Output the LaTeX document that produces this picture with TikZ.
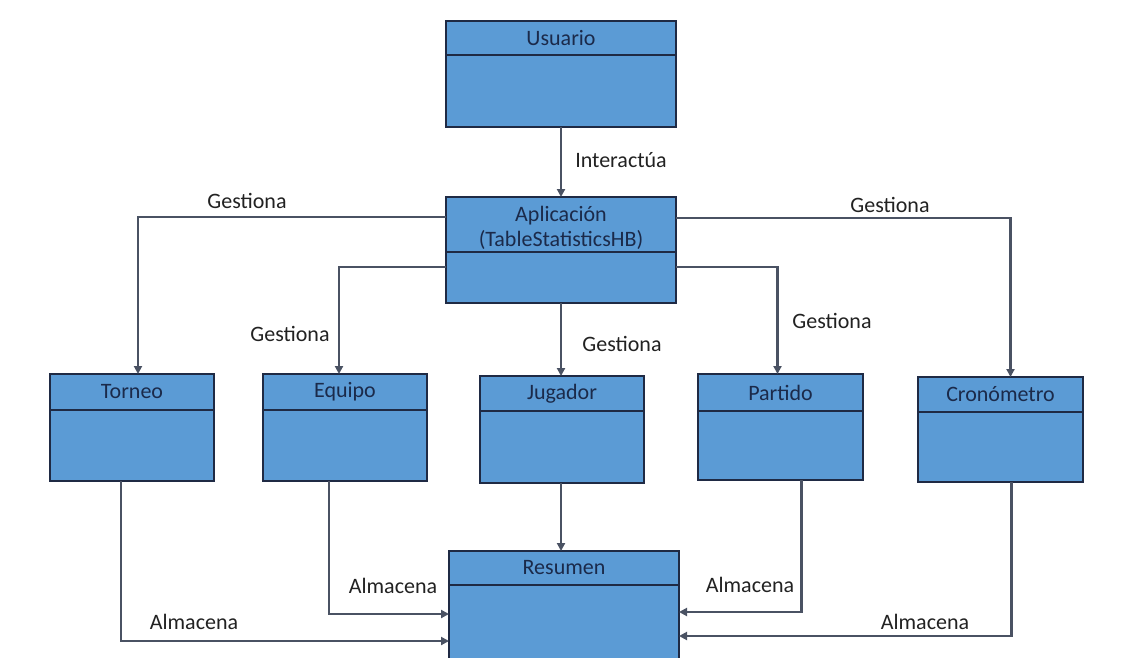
\documentclass[tikz,border=0pt]{standalone}
\usepackage{fontspec}
\setmainfont{Carlito}
\usetikzlibrary{arrows.meta,fit}

\definecolor{boxfill}{HTML}{5B9BD5}
\definecolor{boxline}{HTML}{1F2A44}
\definecolor{titletext}{HTML}{1B2A4A}
\definecolor{wire}{HTML}{4A5263}
\definecolor{labeltext}{HTML}{222222}

% class box frame: name, x1, y1, x2, y2, divider y
\newcommand\umlframe[6]{%
  \coordinate (#1-nw) at (#2,#3);
  \coordinate (#1-se) at (#4,#5);
  \node[umlbox, fit=(#1-nw)(#1-se)] (#1) {};
  \draw[divider] (#1.west |- 0,#6) -- (#1.east |- 0,#6);
}
% class box with its title centred in the header
\newcommand\umlclass[7]{%
  \umlframe{#1}{#2}{#3}{#4}{#5}{#6}
  \node[title] (#1-t) at ({(#2+#4)/2},{(#3+#6)/2}) {#7};
}

\begin{document}
\begin{tikzpicture}[x=1pt,y=-1pt,
  umlbox/.style={draw=boxline, fill=boxfill, line width=1.4pt, inner sep=0pt, outer sep=0pt},
  divider/.style={draw=boxline, line width=1.4pt},
  title/.style={font=\fontsize{22}{25}\selectfont, text=titletext, inner sep=0pt, align=center},
  conn/.style={draw=wire, line width=2.5pt, -{Triangle[length=8pt,width=8pt]}},
  lbl/.style={font=\fontsize{22}{25}\selectfont, text=labeltext, inner sep=0pt}]

\useasboundingbox (0,0) rectangle (1137,657);
\fill[white] (0,0) rectangle (1137,657);

% classes
\umlclass{usr}{446}{21}{676}{127}{55}{Usuario}
\umlframe{app}{446}{197}{676}{303}{252}
\node[title] (app-t) at (561,228) {Aplicación\\(TableStatisticsHB)};
\umlclass{tor}{50}{374}{214}{481}{410}{Torneo}
\umlclass{equ}{263}{374}{427}{481}{410}{Equipo}
\umlclass{jug}{480}{376}{644}{483}{411}{Jugador}
\umlclass{par}{698}{374}{863}{480}{411}{Partido}
\umlclass{cro}{918}{377}{1083}{482}{412}{Cronómetro}
\umlclass{res}{449}{551}{679}{670}{585}{Resumen}

% Usuario -> Aplicación
\draw[conn] (usr) -- (app);
\node[lbl] (l-int) at (621,160) {Interactúa};

% Aplicación manages the domain classes
\draw[conn] (app.west |- 0,217) -| ([xshift=6pt]tor.north);
\draw[conn] (app.west |- 0,267) -| ([xshift=-6pt]equ.north);
\draw[conn] (app.south) -- (app.south |- jug.north);
\draw[conn] (app.east |- 0,267) -| ([xshift=-3pt]par.north);
\draw[conn] (app.east |- 0,218) -| ([xshift=10pt]cro.north);
\node[lbl] (l-g1) at (247,201) {Gestiona};
\node[lbl] (l-g2) at (290,334) {Gestiona};
\node[lbl] (l-g3) at (622,344) {Gestiona};
\node[lbl] (l-g4) at (832,321) {Gestiona};
\node[lbl] (l-g5) at (890,205) {Gestiona};

% storage in Resumen
\draw[conn] ([xshift=-11pt]tor.south) |- (res.west |- 0,641);
\draw[conn] ([xshift=-16pt]equ.south) |- (res.west |- 0,614);
\draw[conn] (app.south |- jug.south) -- (app.south |- res.north);
\draw[conn] ([xshift=21pt]par.south) |- (res.east |- 0,612);
\draw[conn] ([xshift=11pt]cro.south) |- (res.east |- 0,636);
\node[lbl] (l-a1) at (194,622) {Almacena};
\node[lbl] (l-a2) at (393,586) {Almacena};
\node[lbl] (l-a3) at (750,585) {Almacena};
\node[lbl] (l-a4) at (925,622) {Almacena};
\end{tikzpicture}
\end{document}
